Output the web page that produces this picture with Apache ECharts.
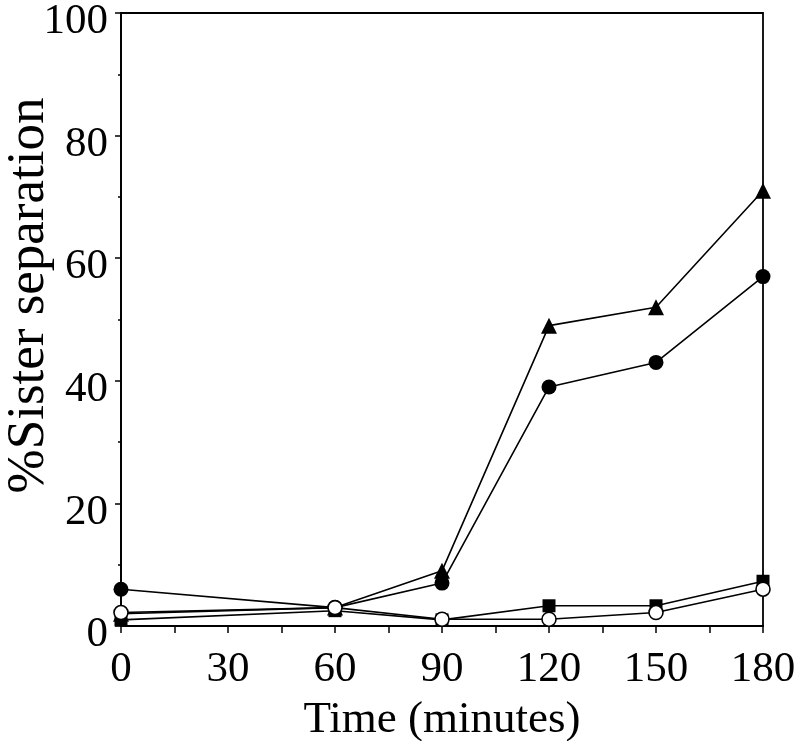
<!DOCTYPE html>
<html>
<head>
<meta charset="utf-8">
<script src="https://cdn.jsdelivr.net/npm/echarts@6/dist/echarts.min.js"></script>
<style>
  html, body { margin: 0; padding: 0; background: #fff; }
  #chart { width: 800px; height: 741px; }
</style>
</head>
<body>
<div id="chart"></div>
<script>
// time points (minutes)
var times = [0, 60, 90, 120, 150, 180];
// % sister separation
var triangleVals = [2, 3, 9, 49, 52, 71];
var filledCircleVals = [6, 3, 7, 39, 43, 57];
var squareVals = [1, 2.5, 1, 3.3, 3.3, 7.3];
var openCircleVals = [2.2, 3, 1.1, 1.1, 2.2, 6];

var yTicks = [0, 20, 40, 60, 80, 100];
var xTicks = [0, 30, 60, 90, 120, 150, 180];

function pairs(vals) {
  var out = [];
  for (var i = 0; i < times.length; i++) {
    out.push([times[i], vals[i]]);
  }
  return out;
}

var serif = "'Liberation Serif', 'Times New Roman', serif";

function lineSeries(vals, symbol, size, fill) {
  return {
    type: "line",
    data: pairs(vals),
    symbol: symbol,
    symbolSize: size,
    showAllSymbol: true,
    lineStyle: { color: "#000", width: 1.6 },
    itemStyle: { color: fill, borderColor: "#000", borderWidth: fill === "#fff" ? 1.6 : 0 },
    emphasis: { disabled: true },
    animation: false
  };
}

var chart = echarts.init(document.getElementById("chart"));
chart.setOption({
  backgroundColor: "#fff",
  animation: false,
  grid: {
    left: 121,
    right: 37,
    top: 13,
    bottom: 115,
    containLabel: false,
    outerBoundsMode: "none",
    show: true,
    borderColor: "#000",
    borderWidth: 1.8,
    backgroundColor: "transparent"
  },
  xAxis: {
    type: "value",
    min: xTicks[0],
    max: xTicks[xTicks.length - 1],
    interval: 30,
    name: "Time (minutes)",
    nameLocation: "middle",
    nameGap: 72,
    nameMoveOverlap: false,
    nameTextStyle: { fontFamily: serif, fontSize: 45, color: "#000" },
    axisLine: { show: true, onZero: false, lineStyle: { color: "#000", width: 1.8 } },
    axisTick: { show: true, inside: false, length: 7, lineStyle: { color: "#000", width: 1.5 } },
    minorTick: { show: true, splitNumber: 2, length: 7, lineStyle: { color: "#000", width: 1.5 } },
    axisLabel: { fontFamily: serif, fontSize: 43, color: "#000", margin: 22 },
    splitLine: { show: false }
  },
  yAxis: {
    type: "value",
    min: yTicks[0],
    max: yTicks[yTicks.length - 1],
    interval: 20,
    name: "%Sister separation",
    nameLocation: "middle",
    nameGap: 65,
    nameMoveOverlap: false,
    nameTextStyle: { fontFamily: serif, fontSize: 53, color: "#000", padding: [0, 0, 0, 48] },
    axisLine: { show: true, onZero: false, lineStyle: { color: "#000", width: 1.8 } },
    axisTick: { show: true, inside: false, length: 6, lineStyle: { color: "#000", width: 1.5 } },
    minorTick: { show: true, splitNumber: 2, length: 3, lineStyle: { color: "#000", width: 1.5 } },
    axisLabel: { fontFamily: serif, fontSize: 43, color: "#000", margin: 13, verticalAlign: "top", lineHeight: 18 },
    splitLine: { show: false }
  },
  series: [
    lineSeries(triangleVals, "triangle", 16, "#000"),
    lineSeries(filledCircleVals, "circle", 15, "#000"),
    lineSeries(squareVals, "rect", 13, "#000"),
    lineSeries(openCircleVals, "circle", 14, "#fff")
  ]
});
</script>
</body>
</html>
